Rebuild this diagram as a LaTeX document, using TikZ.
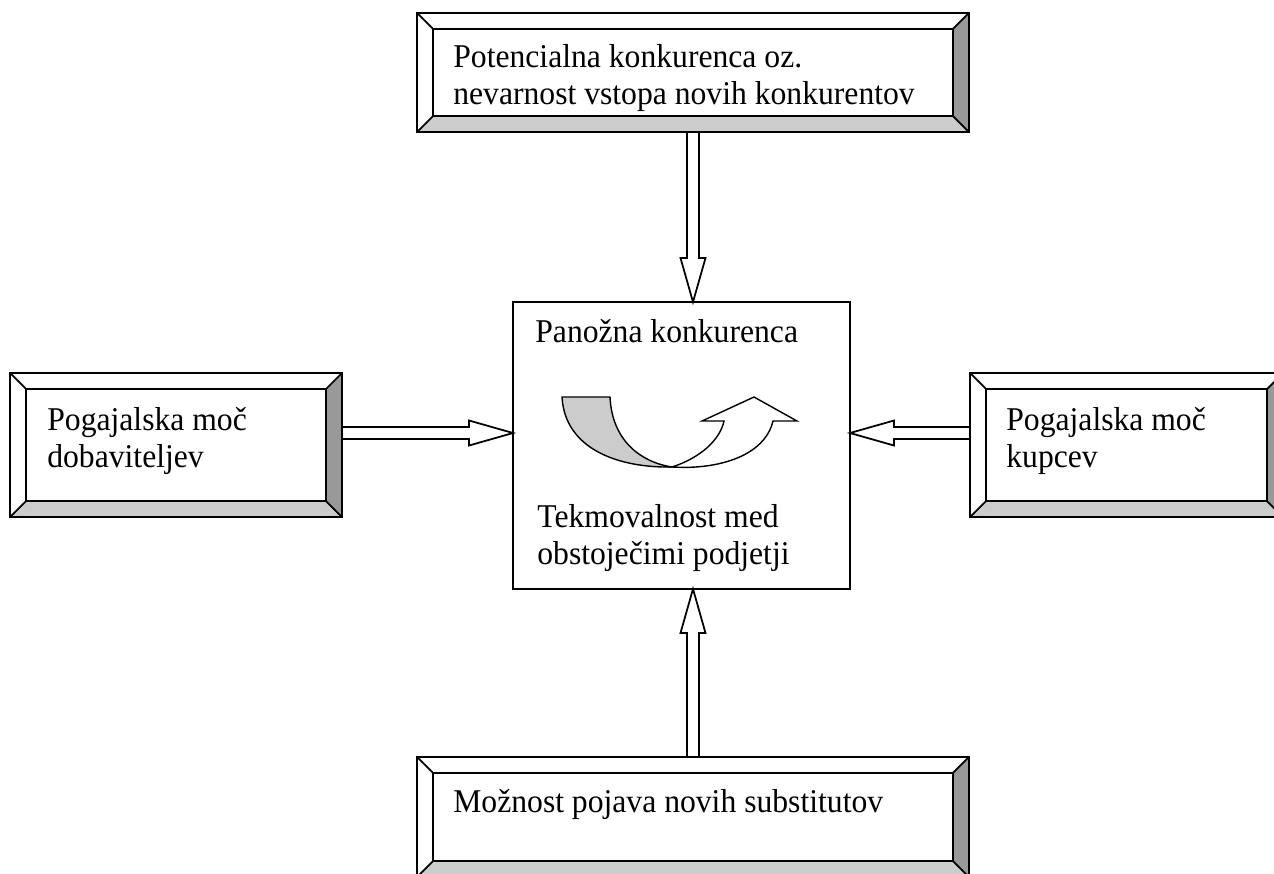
\documentclass[tikz,border=0pt]{standalone}
\usepackage{fontspec}
\setmainfont{Liberation Serif}[FakeStretch=0.953]
\usetikzlibrary{calc}
\definecolor{facelight}{HTML}{CCCCCC}
\definecolor{facedark}{HTML}{999999}
\begin{document}
\begin{tikzpicture}[
    x=0.02cm, y=-0.02cm,
    plainbox/.style={
        rectangle,
        draw,
        line width=1pt,
        inner sep=0pt,
        outer sep=0pt,
        fill=white
    },
    bevelbox/.style={
        plainbox,
        path picture={
            \coordinate (bsw) at (path picture bounding box.south west);
            \coordinate (bne) at (path picture bounding box.north east);
            \coordinate (bse) at (bsw -| bne);
            \coordinate (bnw) at (bsw |- bne);
            \coordinate (isw) at ([shift={(0.32cm,0.32cm)}]bsw);
            \coordinate (ine) at ([shift={(-0.32cm,-0.32cm)}]bne);
            \coordinate (ise) at ([shift={(-0.32cm,0.32cm)}]bse);
            \coordinate (inw) at ([shift={(0.32cm,-0.32cm)}]bnw);
            \fill[facelight] (bsw) -- (bse) -- (ise) -- (isw) -- cycle;
            \fill[facedark] (bse) -- (bne) -- (ine) -- (ise) -- cycle;
            \draw[line width=1pt] (isw) rectangle (ine);
            \draw[line width=1pt] (bsw) -- (isw) (bse) -- (ise) (bne) -- (ine) (bnw) -- (inw);
        }
    },
    boxtext/.style={
        anchor=north west,
        inner sep=0pt,
        align=left,
        font=\fontsize{18.9}{21}\selectfont
    },
    fatarrow/.style={
        draw,
        line width=1pt,
        fill=white,
        to path={
            let \p1=(\tikztostart), \p2=(\tikztotarget),
                \n1={atan2(\y2-\y1,\x2-\x1)},
                \n2={veclen(\x2-\x1,\y2-\y1)-25}
            in ($(\p1)+(\n1+90:3.4pt)$) -- ++(\n1:\n2) -- ++(\n1+90:3.7pt) -- (\p2)
               -- ($(\p1)+(\n1:\n2)+(\n1-90:7.1pt)$) -- ++(\n1+90:3.7pt)
               -- ($(\p1)+(\n1-90:3.4pt)$) -- cycle
        }
    }
]

\useasboundingbox (0,0) rectangle (1274,873);
\clip (0,0) rectangle (1274,873);

\node[bevelbox, minimum width=11.04cm, minimum height=2.38cm] (entrants) at (693,72.5) {};
\node[bevelbox, minimum width=6.64cm, minimum height=2.88cm] (suppliers) at (176,445) {};
\node[bevelbox, minimum width=6.26cm, minimum height=2.88cm] (buyers) at (1126.5,445) {};
\node[bevelbox, minimum width=11.04cm, minimum height=2.4cm] (substitutes) at (693,817) {};
\node[plainbox, minimum width=6.74cm, minimum height=5.74cm] (rivalry) at (681.5,445.5) {};

\node[boxtext] (entrants-text) at (453,44.3) {Potencialna konkurenca oz.\\nevarnost vstopa novih konkurentov};
\node[boxtext] (suppliers-text) at (47,407.3) {Pogajalska moč\\dobaviteljev};
\node[boxtext] (buyers-text) at (1006,407.3) {Pogajalska moč\\kupcev};
\node[boxtext] (substitutes-text) at (453,789.3) {Možnost pojava novih substitutov};
\node[boxtext] (rivalry-title) at (535,319.3) {Panožna konkurenca};
\node[boxtext] (rivalry-text) at (537,504.3) {Tekmovalnost med\\obstoječimi podjetji};

% Curl
\filldraw[fill=facelight, line width=0.8pt] (562,397) -- (610,397)
    .. controls (612,440) and (640,462) .. (672,467)
    .. controls (620,468) and (565,450) .. (562,397) -- cycle;
\filldraw[fill=white, line width=0.8pt] (672,467)
    .. controls (700,458) and (720,440) .. (724,421)
    -- (702,421) -- (754,397) -- (797,421) -- (773,421)
    .. controls (765,455) and (720,470) .. (672,467) -- cycle;

% Arrows
\draw[fatarrow] (entrants.south) to (entrants.south |- rivalry.north);
\draw[fatarrow] (substitutes.north) to (substitutes.north |- rivalry.south);
\draw[fatarrow] ([yshift=0.24cm]suppliers.east) to ([yshift=0.24cm]suppliers.east -| rivalry.west);
\draw[fatarrow] ([yshift=0.24cm]buyers.west) to ([yshift=0.24cm]buyers.west -| rivalry.east);

\end{tikzpicture}
\end{document}
